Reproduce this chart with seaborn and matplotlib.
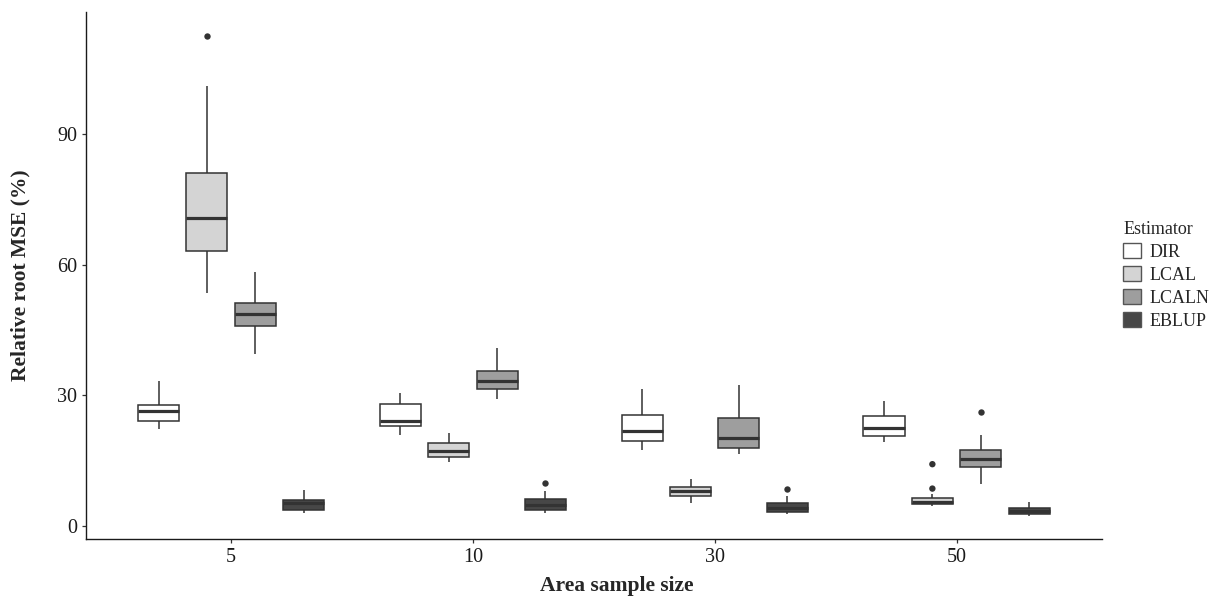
import numpy as np
import pandas as pd
import matplotlib.pyplot as plt
import seaborn as sns

sns.set_theme(style='ticks')
plt.rcParams['font.family'] = ['Liberation Serif', 'DejaVu Serif']

sizes = ['5', '10', '30', '50']
estimators = ['DIR', 'LCAL', 'LCALN', 'EBLUP']
fills = ['#ffffff', '#d4d4d4', '#9e9e9e', '#474747']

# lower whisker, q1, median, q3, upper whisker  (one row per sample size)
dir_stats = [[22.3, 24.0, 26.4, 27.8, 33.4],
             [20.8, 22.9, 24.1, 28.0, 30.6],
             [17.4, 19.6, 21.9, 25.5, 31.4],
             [19.3, 20.6, 22.4, 25.3, 28.6]]
lcal_stats = [[53.5, 63.2, 70.6, 81.1, 101.1],
              [14.8, 15.8, 17.2, 19.0, 21.3],
              [5.4, 6.9, 8.1, 9.0, 10.7],
              [4.6, 5.0, 5.6, 6.4, 7.4]]
lcaln_stats = [[39.6, 45.9, 48.6, 51.3, 58.3],
               [29.2, 31.4, 33.4, 35.7, 40.8],
               [16.5, 17.9, 20.1, 24.9, 32.4],
               [9.6, 13.6, 15.4, 17.5, 21.0]]
eblup_stats = [[2.9, 3.6, 5.2, 6.0, 8.3],
               [3.1, 3.7, 4.9, 6.1, 8.0],
               [2.7, 3.2, 4.2, 5.2, 7.0],
               [2.3, 2.7, 3.4, 4.1, 5.5]]

# points beyond the whiskers
out_size = ['5', '10', '30', '50', '50', '50']
out_est = ['LCAL', 'EBLUP', 'EBLUP', 'LCAL', 'LCAL', 'LCALN']
out_val = [112.4, 9.9, 8.6, 14.2, 8.6, 26.1]

rows = []
for est, stats in zip(estimators, [dir_stats, lcal_stats, lcaln_stats, eblup_stats]):
    for size, five in zip(sizes, stats):
        for v in five:
            rows.append((size, est, v))
df = pd.DataFrame(rows, columns=['size', 'Estimator', 'rrmse'])
out = pd.DataFrame({'size': out_size, 'Estimator': out_est, 'rrmse': out_val})

pal = dict(zip(estimators, fills))

fig, ax = plt.subplots(figsize=(12.13, 5.99), dpi=100)
fig.subplots_adjust(left=0.0709, right=0.9082, bottom=0.1007, top=0.98)

sns.boxplot(data=df, x='size', y='rrmse', hue='Estimator', order=sizes,
            hue_order=estimators, palette=pal, whis=(0, 100), width=0.8,
            gap=0.15, showcaps=False, linecolor='#333333', linewidth=1.1,
            medianprops={'linewidth': 2.3, 'color': '#333333'}, ax=ax)
sns.stripplot(data=out, x='size', y='rrmse', hue='Estimator', order=sizes,
              hue_order=estimators, dodge=True, jitter=False, size=4.6,
              palette={e: '#333333' for e in estimators}, legend=False, ax=ax)

ax.set_xlim(-0.6, 3.6)
ax.set_ylim(-2.9, 118)
ax.set_yticks([0, 30, 60, 90])
ax.set_xlabel('Area sample size', fontsize=15.5, fontweight='bold')
ax.set_ylabel('Relative root MSE (%)', fontsize=15.5, fontweight='bold')
ax.xaxis.set_label_coords(0.523, -0.07)
ax.yaxis.set_label_coords(-0.055, 0.5)
ax.tick_params(axis='both', labelsize=14.5, colors='#333333', labelcolor='#1a1a1a',
               length=3, width=0.9)
sns.despine(ax=ax)
for side in ['left', 'bottom']:
    ax.spines[side].set_color('#1a1a1a')
    ax.spines[side].set_linewidth(1.0)

handles, labels = ax.get_legend_handles_labels()
for h in handles:
    h.set_edgecolor('#555555')
    h.set_linewidth(1.0)
leg = ax.legend(handles, labels, title='Estimator', loc='center left',
                bbox_to_anchor=(1.009, 0.5), frameon=False, fontsize=13,
                title_fontsize=13, handlelength=1.0, handleheight=0.9,
                handletextpad=0.45, labelspacing=0.3, borderaxespad=0.3)
leg._legend_box.align = 'left'

fig.savefig('out.png', dpi=100)
